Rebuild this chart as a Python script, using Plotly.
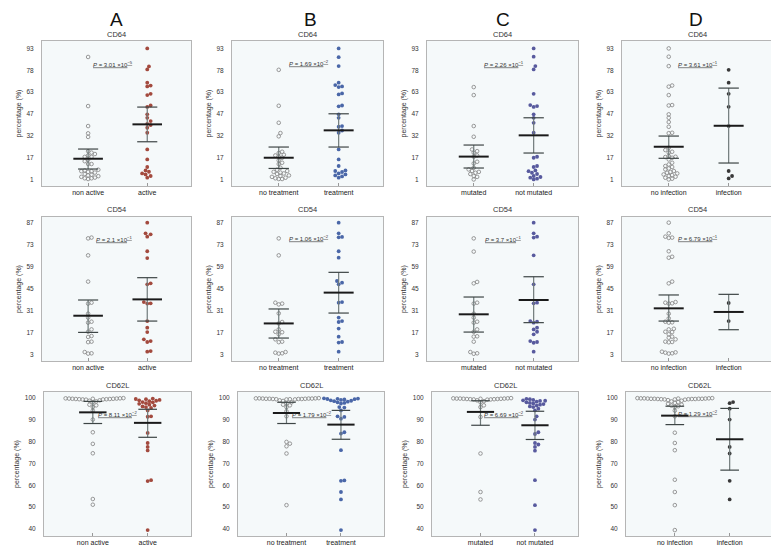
import plotly.graph_objects as go
import numpy as np

W, H = 779, 551

# ---------------- data ----------------
column_letters = ["A", "B", "C", "D"]
row_markers = ["CD64", "CD54", "CD62L"]
group_labels = [["non active", "active"], ["no treatment", "treatment"],
                ["mutated", "not mutated"], ["no infection", "infection"]]

cd64_tickvals = [1, 16.33, 31.67, 47, 62.33, 77.67, 93]
cd64_ticktext = ["1", "17", "32", "47", "63", "78", "93"]
cd54_tickvals = [3, 17, 31, 45, 59, 73, 87]
cd54_ticktext = ["3", "17", "31", "45", "59", "73", "87"]
cd62l_tickvals = [40, 50, 60, 70, 80, 90, 100]
cd62l_ticktext = ["40", "50", "60", "70", "80", "90", "100"]

# CD64
cd64_A_g1 = [87, 52.6, 38.6, 33.5, 31, 21, 20, 19, 18, 17, 17, 15, 14, 12, 12, 8, 7.5, 7, 7, 6.5, 6, 5, 4.5, 4, 3.5, 3, 2.5, 2, 2, 1.5]
cd64_A_g2 = [93, 80.4, 78.3, 69, 66.4, 67, 60.3, 61.2, 53, 52, 46.8, 44.4, 42.1, 40.2, 39.3, 37.4, 33.9, 22.2, 15.2, 9.9, 7.5, 6.6, 5.4, 4.7, 3.6, 2.4]
cd64_B_g1 = [78, 52.8, 40.9, 33.7, 31.4, 20.6, 19.7, 18.5, 18, 17, 16.4, 14.5, 12.9, 12, 9.4, 8, 7.1, 6.5, 6, 5.4, 5, 4, 3.6, 3, 2.4, 2, 1.5, 1.5]
cd64_B_g2 = [93, 86.9, 80.6, 69, 67.3, 66.4, 65.9, 60.8, 61.5, 53, 52.4, 46.8, 44.4, 38.6, 38.1, 35.5, 33.9, 22.2, 15.2, 10.6, 7.5, 7.1, 6.4, 5.4, 4.7, 4.0, 3.3, 2.4]
cd64_C_g1 = [65.9, 60.3, 38.6, 31.1, 22.2, 21, 19.9, 18, 17.1, 13.6, 12.4, 9.4, 8.2, 7.1, 6.5, 5.9, 5, 3.6, 3, 1.2]
cd64_C_g2 = [93, 87.2, 80.6, 78.3, 61.2, 53.3, 52.6, 52, 46.8, 44.4, 40.9, 33.9, 17.1, 16.4, 10.6, 9.9, 7.5, 7, 5.9, 5, 3.6, 2.9, 2.4, 1.7, 1.2]
cd64_D_g1 = [93, 87.2, 80.6, 66.2, 67, 60.3, 53.3, 53, 46.8, 44.4, 41.4, 38.1, 33.9, 33.6, 23.4, 21.8, 20.6, 20, 17.6, 17.1, 16.9, 16.4, 15.2, 12.9, 11.7, 10.6, 9.9, 8.9, 8.2, 7.1, 6.4, 5.9, 5.4, 4.7, 4.2, 3.6, 3.1, 2.4, 1.7, 1.2]
cd64_D_g2 = [78, 69, 61.2, 52.1, 38.6, 7.1, 3.6, 1.9]

# CD54
cd54_A_g1 = [77.7, 77.2, 66.4, 49.7, 36.3, 35.7, 29.3, 26.8, 24.2, 23.6, 19.3, 17.8, 15.1, 14.5, 11.5, 11.2, 4.9, 4.1, 3.9]
cd54_A_g2 = [87.2, 80.4, 79.8, 78.3, 69, 64.7, 48.6, 48, 36.7, 35.9, 35.7, 24.6, 20.4, 17.6, 13, 11.9, 11.3, 5.5, 5.1]
cd54_B_g1 = [77.2, 66.4, 36.3, 35.7, 35.2, 29.5, 24, 23.1, 19.3, 17.8, 17.5, 16.2, 13, 11.5, 11.2, 4.9, 4.5, 4.1, 3.9]
cd54_B_g2 = [87.2, 80.4, 78.1, 77.9, 69, 64.9, 50.1, 49, 48, 36.7, 36.3, 26.8, 24.6, 24, 19.8, 14.7, 11.3, 10.9, 5.1]
cd54_C_g1 = [77.2, 68.8, 49.5, 48.6, 36.3, 35.7, 29.3, 26.8, 24.2, 23.6, 19.3, 17.8, 14.9, 14.7, 11.5, 4.9, 4.1, 3.8]
cd54_C_g2 = [87.2, 80.4, 78.3, 77.7, 66.4, 48, 36.3, 35.9, 24.6, 24.2, 23.6, 20.4, 19.3, 17.8, 16.2, 11.9, 11.3, 10.8, 5.1]
cd54_D_g1 = [87.2, 80.4, 78.3, 77.7, 77.5, 69, 64.9, 65.5, 49.7, 48.6, 36.7, 36.3, 35.9, 35.7, 29.3, 26.3, 24.2, 23.8, 23.6, 19.7, 19.3, 17.8, 17.6, 16.2, 14.7, 14, 13, 11.5, 11.3, 11.1, 5.1, 4.7, 4.5, 4.1, 3.9]
cd54_D_g2 = [36.1, 24.6]

# CD62L
cd62l_A_g1 = [99.8, 99.7, 99.7, 99.6, 99.6, 99.5, 99.5, 99.5, 99.4, 99.4, 99.3, 99.3, 99.2, 99.2, 99.1,
              98.8, 98.6, 98.3, 97.9, 96.8, 96.5, 95.7, 94.1, 90, 84.2, 78.9, 74.6, 53.7, 51.1]
cd62l_A_g2 = [99.6, 99.4, 99.3, 99.0, 98.8, 98.6, 98.4, 98.0, 97.9, 97.5, 97.2, 96.8, 96.4, 96.0, 95.7, 95.3,
              94.2, 91.5, 91.3, 83.9, 79.3, 77.5, 75.9, 62.3, 61.9, 39.5]
cd62l_B_g1 = [99.8, 99.7, 99.7, 99.7, 99.6, 99.6, 99.6, 99.5, 99.5, 99.5, 99.4, 99.4, 99.4, 99.3, 99.3, 99.2, 99.2,
              98.8, 98.5, 97.9, 97.5, 96.8, 96.5, 95.7, 93.8, 91.5, 79.8, 79, 77.8, 74.5, 50.9]
cd62l_B_g2 = [99.7, 99.6, 99.5, 99.4, 99.3, 99.2, 99.0, 98.8, 98.6, 98.4, 98.2, 97.9, 97.6, 97.3, 95.7, 95.5,
              94.2, 91.5, 91.2, 90.4, 84.2, 83.6, 76, 62.2, 62, 56.9, 53.5, 39.5]
cd62l_C_g1 = [99.8, 99.7, 99.7, 99.6, 99.6, 99.6, 99.5, 99.5, 99.5, 99.4, 99.4, 99.3, 99.3, 99.2, 99.2, 99.1,
              98.8, 98.4, 97.9, 96.5, 95.7, 91.2, 74.5, 56.9, 53.5]
cd62l_C_g2 = [99.5, 99.3, 99.0, 98.8, 98.6, 98.5, 98.2, 97.9, 97.6, 97.4, 97.1, 96.8, 96.4, 96.0, 95.7, 95.0,
              94.2, 91.5, 90, 84.2, 83.4, 79.3, 78.6, 77.5, 75.8, 62.3, 50.9, 39.5]
cd62l_D_g1 = [99.8, 99.8, 99.7, 99.7, 99.7, 99.6, 99.6, 99.6, 99.5, 99.5, 99.5, 99.5, 99.4, 99.4, 99.4, 99.3,
              99.3, 99.2, 99.2, 99.1,
              98.9, 98.6, 98.3, 98.0, 97.6, 97.2, 96.8, 96.4, 96.1, 95.7, 94.1, 91.5, 84, 79.3, 76, 62.5, 56.9, 50.9, 39.5]
cd62l_D_g2 = [97.5, 98, 95, 90, 77.5, 74.5, 62, 53.5]

# mean and 95% CI [group1, group2] for columns A-D
cd64_mean = [[15.7, 39.8], [16.4, 35.6], [17.2, 32.1], [24.1, 38.8]]
cd64_lo = [[8.5, 27.6], [8.9, 23.9], [9.2, 19.7], [16.0, 12.7]]
cd64_hi = [[22.5, 51.9], [23.9, 47.2], [25.3, 44.4], [31.6, 65.2]]
cd54_mean = [[28.0, 38.4], [23.1, 42.7], [28.9, 38.0], [32.7, 30.4]]
cd54_lo = [[17.4, 24.6], [13.8, 29.7], [17.6, 23.6], [24.6, 19.1]]
cd54_hi = [[38.0, 52.2], [32.3, 55.6], [39.9, 52.8], [41.2, 41.6]]
cd62l_mean = [[93.3, 88.5], [93.0, 87.7], [93.5, 87.4], [91.8, 81.0]]
cd62l_lo = [[88.2, 81.9], [88.2, 81.0], [87.4, 80.9], [87.7, 66.9]]
cd62l_hi = [[98.3, 94.7], [97.9, 94.2], [98.6, 93.8], [96.1, 95.1]]

# P values
cd64_p_mant = ["3.01", "1.69", "2.26", "3.61"]
cd64_p_exp = ["5", "2", "1", "1"]
cd54_p_mant = ["2.1", "1.06", "3.7", "6.79"]
cd54_p_exp = ["1", "2", "1", "1"]
cd62l_p_mant = ["8.11", "1.79", "6.69", "1.29"]
cd62l_p_exp = ["2", "2", "2", "2"]

group2_colors = ["#a34a3e", "#4a67a8", "#585a9e", "#383838"]

# ---------------- assemble ----------------
rows = [
    dict(name="CD64", vals=[[cd64_A_g1, cd64_A_g2], [cd64_B_g1, cd64_B_g2], [cd64_C_g1, cd64_C_g2], [cd64_D_g1, cd64_D_g2]],
         mean=cd64_mean, lo=cd64_lo, hi=cd64_hi, tv=cd64_tickvals, tt=cd64_ticktext,
         pm=cd64_p_mant, pe=cd64_p_exp),
    dict(name="CD54", vals=[[cd54_A_g1, cd54_A_g2], [cd54_B_g1, cd54_B_g2], [cd54_C_g1, cd54_C_g2], [cd54_D_g1, cd54_D_g2]],
         mean=cd54_mean, lo=cd54_lo, hi=cd54_hi, tv=cd54_tickvals, tt=cd54_ticktext,
         pm=cd54_p_mant, pe=cd54_p_exp),
    dict(name="CD62L", vals=[[cd62l_A_g1, cd62l_A_g2], [cd62l_B_g1, cd62l_B_g2], [cd62l_C_g1, cd62l_C_g2], [cd62l_D_g1, cd62l_D_g2]],
         mean=cd62l_mean, lo=cd62l_lo, hi=cd62l_hi, tv=cd62l_tickvals, tt=cd62l_ticktext,
         pm=cd62l_p_mant, pe=cd62l_p_exp),
]

# layout geometry (pixels)
col_px = [[(34, 183), (224, 375), (419, 570), (614, 765)],
          [(34, 183), (224, 375), (419, 570), (614, 765)],
          [(36, 183), (230, 376), (424, 570), (618, 765)]]
row_px = [(33, 178), (209, 353), (384, 528)]
y_ranges = [(-3.4, 98.2), (-0.8, 90.8), (36.8, 102.6)]
x_ranges = [(-0.78, 1.74), (-0.78, 1.74), (-0.89, 1.79)]
p_pos = [[(0.42, 82.3), (0.5, 83.0), (0.5, 81.8), (0.49, 81.8)],
         [(0.44, 76.6), (0.5, 77.2), (0.48, 77.0), (0.49, 77.5)],
         [(0.45, 92.4), (0.46, 92.6), (0.43, 92.6), (0.42, 92.8)]]

FONT = "Liberation Sans, Arial, sans-serif"
MARK_D = 3.4  # px spacing for swarm


def swarm(vals, xppu, yppu, d):
    vals = np.asarray(vals, dtype=float)
    order = np.argsort(vals)
    placed = []
    offs = np.zeros(len(vals))
    step = d / 2.0
    for i in order:
        yp = vals[i] * yppu
        k = 0
        while True:
            cands = [0.0] if k == 0 else [k * step, -k * step]
            ok_c = None
            for c in cands:
                if all((c - px) ** 2 + (yp - py) ** 2 >= d * d * 0.98 for px, py in placed):
                    ok_c = c
                    break
            if ok_c is not None:
                offs[i] = ok_c / xppu
                placed.append((ok_c, yp))
                break
            k += 1
    return offs


fig = go.Figure()
layout = dict(width=W, height=H, margin=dict(l=0, r=0, t=0, b=0),
              paper_bgcolor="white", showlegend=False,
              font=dict(family=FONT, color="#333"))
annotations = []

for r, row in enumerate(rows):
    for c in range(4):
        k = r * 4 + c + 1
        xa = "x" if k == 1 else f"x{k}"
        ya = "y" if k == 1 else f"y{k}"
        x0, x1 = col_px[r][c]
        y0, y1 = row_px[r]
        xr = x_ranges[r]
        yr = y_ranges[r]
        xppu = (x1 - x0) / (xr[1] - xr[0])
        yppu = (y1 - y0) / (yr[1] - yr[0])

        for g in range(2):
            v = row["vals"][c][g]
            offs = swarm(v, xppu, yppu, MARK_D)
            xs = g + offs
            if g == 0:
                marker = dict(symbol="circle-open", size=3.6, color="#8c8c8c", line=dict(width=0.9, color="#8c8c8c"))
            else:
                marker = dict(symbol="circle", size=3.8, color=group2_colors[c], line=dict(width=0))
            fig.add_trace(go.Scatter(x=xs, y=v, mode="markers", marker=marker,
                                     xaxis=xa, yaxis=ya, hoverinfo="skip"))
        # CI lines and mean
        for g in range(2):
            m = row["mean"][c][g]
            lo = row["lo"][c][g]
            hi = row["hi"][c][g]
            fig.add_trace(go.Scatter(x=[g, g], y=[lo, hi], mode="lines",
                                     line=dict(color="#6f7a7a", width=1.2),
                                     xaxis=xa, yaxis=ya, hoverinfo="skip"))
            fig.add_trace(go.Scatter(x=[g - 0.17, g + 0.17, None, g - 0.17, g + 0.17],
                                     y=[lo, lo, None, hi, hi], mode="lines",
                                     line=dict(color="#3d4545", width=1.2),
                                     xaxis=xa, yaxis=ya, hoverinfo="skip"))
            fig.add_trace(go.Scatter(x=[g - 0.25, g + 0.25], y=[m, m], mode="lines",
                                     line=dict(color="#1a1a1a", width=2),
                                     xaxis=xa, yaxis=ya, hoverinfo="skip"))

        layout[("xaxis" if k == 1 else f"xaxis{k}")] = dict(
            domain=[x0 / W, x1 / W], range=list(xr), anchor=ya,
            tickvals=[0, 1], ticktext=group_labels[c], ticks="inside", ticklen=3,
            tickcolor="#999", tickfont=dict(size=7, color="#222"),
            showgrid=False, zeroline=False, showline=True, linecolor="#b5b5b5",
            linewidth=1, mirror=True, fixedrange=True)
        layout[("yaxis" if k == 1 else f"yaxis{k}")] = dict(
            domain=[1 - y1 / H, 1 - y0 / H], range=list(yr), anchor=xa,
            tickvals=row["tv"], ticktext=row["tt"], ticks="", ticklabelstandoff=6,
            tickfont=dict(size=6.5, color="#333"),
            title=dict(text="percentage (%)", font=dict(size=7, color="#333"), standoff=4),
            showgrid=False, zeroline=False, showline=True, linecolor="#b5b5b5",
            linewidth=1, mirror=True, fixedrange=True)

        # subplot title
        annotations.append(dict(text=row["name"], x=(x0 + x1) / 2 / W, y=1 - (y0 - 0.5) / H,
                                xref="paper", yref="paper", xanchor="center", yanchor="bottom",
                                showarrow=False, font=dict(size=7.5, color="#333")))
        # P value
        px_, py_ = p_pos[r][c]
        annotations.append(dict(
            text=f"<u><i>P</i> = {row['pm'][c]} ×10<sup>−{row['pe'][c]}</sup></u>",
            x=px_, y=py_, xref=xa, yref=ya, xanchor="center", yanchor="middle",
            showarrow=False, font=dict(size=6, color="#333")))

# column letters
letter_x = [108, 302, 495, 688]
for c, L in enumerate(column_letters):
    annotations.append(dict(text=L, x=letter_x[c] / W, y=1 - 0.5 / H, xref="paper", yref="paper",
                            xanchor="center", yanchor="top", showarrow=False, borderpad=0,
                            font=dict(size=19, color="#111", family=FONT)))

layout["annotations"] = annotations
layout["plot_bgcolor"] = "#f5f9fa"
fig.update_layout(**layout)
fig.write_html("out.html")
